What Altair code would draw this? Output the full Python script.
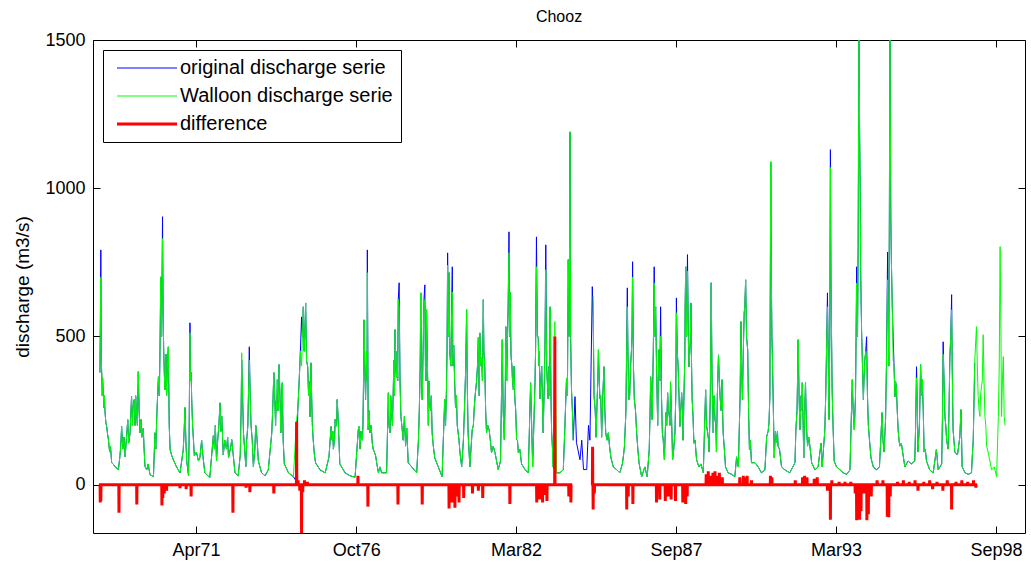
import altair as alt
import pandas as pd
import numpy as np

# ---------------- data ----------------
# decimal years of the sampled points
years = [
 1968.00, 1968.03, 1968.06, 1968.11, 1968.17, 1968.23, 1968.29, 1968.40, 1968.51, 1968.63, 1968.68, 1968.74, 1968.86, 1968.95,
 1969.03, 1969.08, 1969.17, 1969.25, 1969.31, 1969.37, 1969.48, 1969.54, 1969.71, 1969.83, 1969.88,
 1970.00, 1970.08, 1970.14, 1970.18, 1970.22, 1970.26, 1970.34, 1970.40, 1970.51, 1970.62, 1970.74, 1970.85, 1970.91, 1970.97,
 1971.03, 1971.08, 1971.14, 1971.23, 1971.37, 1971.48, 1971.59, 1971.76, 1971.88, 1971.99,
 1972.11, 1972.22, 1972.33, 1972.44, 1972.51, 1972.62, 1972.73, 1972.85, 1972.91, 1972.99,
 1973.11, 1973.17, 1973.25, 1973.36, 1973.42, 1973.53, 1973.65, 1973.76, 1973.88, 1973.95,
 1974.01, 1974.07, 1974.13, 1974.19, 1974.24, 1974.31, 1974.45, 1974.62, 1974.73, 1974.81, 1974.90, 1974.96,
 1975.04, 1975.11, 1975.19, 1975.22, 1975.30, 1975.38, 1975.53, 1975.71, 1975.84, 1975.91, 1975.99,
 1976.07, 1976.12, 1976.16, 1976.21, 1976.39, 1976.56, 1976.73, 1976.84, 1976.86, 1976.93, 1976.98,
 1977.04, 1977.09, 1977.15, 1977.18, 1977.24, 1977.32, 1977.39, 1977.47, 1977.53, 1977.58, 1977.64, 1977.81, 1977.87, 1977.93, 1977.98,
 1978.04, 1978.10, 1978.15, 1978.21, 1978.24, 1978.30, 1978.38, 1978.50, 1978.55, 1978.67, 1978.84, 1978.90, 1978.98,
 1979.03, 1979.09, 1979.12, 1979.18, 1979.24, 1979.29, 1979.37, 1979.46, 1979.58, 1979.71, 1979.80, 1979.86, 1979.90, 1979.95,
 1980.01, 1980.06, 1980.11, 1980.17, 1980.26, 1980.32, 1980.38, 1980.49, 1980.55, 1980.60, 1980.66, 1980.74, 1980.81, 1980.89, 1980.95,
 1981.00, 1981.06, 1981.12, 1981.17, 1981.23, 1981.32, 1981.40, 1981.52, 1981.63, 1981.71, 1981.77, 1981.84, 1981.89, 1981.95,
 1982.00, 1982.07, 1982.15, 1982.20, 1982.26, 1982.32, 1982.43, 1982.55, 1982.66, 1982.74, 1982.81, 1982.89, 1982.94,
 1983.00, 1983.06, 1983.12, 1983.17, 1983.23, 1983.26, 1983.34, 1983.41, 1983.46, 1983.51, 1983.57, 1983.63, 1983.74, 1983.86, 1983.91, 1983.97,
 1984.03, 1984.09, 1984.14, 1984.20, 1984.26, 1984.31, 1984.43, 1984.49, 1984.55, 1984.66, 1984.72, 1984.77, 1984.85, 1984.88, 1984.91, 1984.98,
 1985.06, 1985.11, 1985.17, 1985.25, 1985.31, 1985.40, 1985.49, 1985.57, 1985.68, 1985.79, 1985.88, 1985.95,
 1986.00, 1986.05, 1986.10, 1986.16, 1986.23, 1986.29, 1986.37, 1986.45, 1986.54, 1986.65, 1986.73, 1986.80, 1986.85, 1986.90, 1986.97,
 1987.02, 1987.09, 1987.13, 1987.19, 1987.25, 1987.32, 1987.37, 1987.43, 1987.49, 1987.53, 1987.60, 1987.68, 1987.73, 1987.79, 1987.85, 1987.91, 1987.96,
 1988.02, 1988.05, 1988.11, 1988.16, 1988.23, 1988.27, 1988.33, 1988.42, 1988.50, 1988.57, 1988.65, 1988.73, 1988.80, 1988.85, 1988.92, 1988.99,
 1989.05, 1989.10, 1989.17, 1989.23, 1989.29, 1989.33, 1989.41, 1989.50, 1989.62, 1989.73, 1989.79, 1989.85, 1989.94, 1989.99,
 1990.05, 1990.10, 1990.17, 1990.23, 1990.30, 1990.42, 1990.53, 1990.64, 1990.76, 1990.82, 1990.90, 1990.96,
 1991.02, 1991.08, 1991.16, 1991.21, 1991.33, 1991.44, 1991.61, 1991.79, 1991.82, 1991.90, 1991.96,
 1992.04, 1992.09, 1992.15, 1992.22, 1992.30, 1992.36, 1992.47, 1992.58, 1992.68, 1992.72, 1992.81, 1992.87, 1992.90, 1992.95,
 1993.00, 1993.06, 1993.13, 1993.21, 1993.33, 1993.44, 1993.56, 1993.67, 1993.75, 1993.82, 1993.90, 1993.93, 1993.98,
 1994.02, 1994.07, 1994.13, 1994.18, 1994.24, 1994.30, 1994.39, 1994.47, 1994.58, 1994.68, 1994.77, 1994.84, 1994.89, 1994.96,
 1995.00, 1995.04, 1995.09, 1995.15, 1995.21, 1995.26, 1995.32, 1995.38, 1995.43, 1995.55, 1995.66, 1995.77, 1995.89, 1995.95,
 1996.00, 1996.09, 1996.15, 1996.21, 1996.29, 1996.40, 1996.52, 1996.63, 1996.69, 1996.81, 1996.86, 1996.92, 1996.98,
 1997.03, 1997.09, 1997.15, 1997.20, 1997.26, 1997.35, 1997.43, 1997.47, 1997.51, 1997.61, 1997.72, 1997.83, 1997.89, 1997.94,
 1998.00, 1998.06, 1998.12, 1998.17, 1998.23, 1998.29, 1998.35, 1998.40, 1998.46, 1998.52, 1998.61, 1998.69, 1998.75, 1998.81, 1998.86, 1998.92, 1998.95, 1998.98,
]

original = [
 378, 792, 378, 320, 250, 196, 152, 74, 61, 51, 94, 196, 94, 219,
 175, 297, 287, 240, 381, 175, 190, 61, 34, 27, 175,
 364, 701, 904, 455, 320, 440, 465, 118, 84, 60, 40, 118, 260, 80,
 30, 546, 287, 98, 80, 150, 40, 24, 165, 80,
 276, 100, 120, 110, 152, 40, 30, 420, 175, 61,
 465, 200, 60, 175, 80, 40, 30, 50, 175, 378,
 200, 354, 405, 175, 344, 70, 40, 27, 10, 331, 566, 600,
 613, 398, 229, 411, 150, 74, 50, 40, 94, 196, 120,
 196, 287, 200, 70, 40, 30, 25, 185, 196, 180, 150,
 556, 287, 792, 185, 175, 140, 110, 74, 40, 60, 40, 40, 310, 175, 240,
 330, 523, 360, 624, 681, 230, 150, 190, 74, 60, 40, 150, 647,
 287, 624, 674, 590, 200, 265, 175, 90, 60, 27, 287, 320, 782, 715,
 400, 735, 470, 260, 175, 110, 60, 300, 590, 175, 60, 185, 260, 350, 496,
 512, 430, 624, 400, 175, 185, 108, 108, 51, 80, 489, 152, 533, 500,
 853, 432, 320, 290, 152, 108, 70, 51, 40, 344, 60, 344, 836,
 499, 290, 400, 175, 450, 809, 290, 600, 175, 60, 50, 40, 40, 50, 185, 360,
 759, 1190, 320, 150, 297, 142, 84, 150, 51, 51, 200, 150, 668, 560, 300, 160,
 455, 290, 160, 398, 175, 175, 90, 60, 51, 40, 70, 128,
 243, 664, 287, 398, 752, 287, 175, 74, 27, 60, 27, 118, 364, 220, 735,
 600, 200, 455, 600, 175, 84, 243, 310, 230, 347, 84, 175, 630, 398, 196, 310, 150,
 432, 735, 776, 398, 613, 287, 140, 84, 60, 70, 40, 320, 175, 110, 681, 175,
 220, 110, 438, 287, 354, 175, 60, 40, 35, 27, 94, 60, 550, 287,
 580, 691, 455, 118, 74, 74, 60, 40, 50, 162, 209, 1089,
 411, 90, 142, 130, 60, 50, 40, 74, 185, 489, 185,
 344, 90, 344, 130, 130, 74, 50, 60, 140, 60, 185, 465, 647, 220,
 1130, 320, 80, 60, 50, 40, 35, 50, 354, 185, 735, 500, 1560,
 995, 512, 287, 420, 499, 200, 90, 60, 50, 60, 243, 110, 220, 785,
 400, 1600, 748, 499, 297, 330, 185, 130, 140, 60, 80, 70, 80, 398,
 110, 405, 354, 110, 80, 50, 40, 120, 50, 70, 482, 230, 150,
 120, 432, 641, 185, 110, 100, 160, 253, 60, 40, 35, 40, 150, 411,
 None, None, None, None, None, None, None, None, None, None, None, None, None, None, None, None, None, None,
]

walloon = [
 378, 700, 378, 320, 250, 196, 152, 74, 61, 51, 94, 196, 94, 219,
 175, 297, 287, 240, 381, 175, 190, 61, 34, 27, 175,
 364, 701, 830, 455, 320, 440, 465, 118, 84, 60, 40, 118, 260, 80,
 30, 512, 287, 98, 80, 150, 40, 24, 165, 80,
 276, 100, 120, 110, 152, 40, 30, 445, 175, 61,
 420, 200, 60, 175, 80, 40, 30, 50, 175, 378,
 200, 354, 405, 175, 344, 70, 40, 27, 220, 331, 400, 600,
 613, 398, 229, 411, 150, 74, 50, 40, 94, 196, 120,
 196, 287, 200, 70, 40, 30, 25, 185, 196, 180, 150,
 556, 287, 715, 185, 175, 140, 110, 74, 40, 60, 40, 40, 310, 175, 240,
 330, 523, 360, 624, 600, 230, 150, 190, 74, 60, 40, 150, 647,
 287, 624, 600, 590, 200, 265, 175, 90, 60, 27, 287, 320, 740, 715,
 400, 650, 470, 260, 175, 110, 60, 300, 590, 175, 60, 185, 260, 350, 496,
 512, 430, 624, 400, 175, 185, 108, 108, 51, 80, 489, 152, 533, 500,
 782, 432, 320, 290, 152, 108, 70, 51, 40, 344, 60, 344, 735,
 499, 290, 400, 175, 450, 725, 290, 600, 175, 60, 550, 40, 40, 50, 185, 360,
 759, 1190, 320, 150, None, None, None, None, None, None, None, None, None, 635, 300, 160,
 455, 290, 160, 398, 175, 175, 90, 60, 51, 40, 70, 128,
 243, 600, 287, 398, 700, 287, 175, 74, 27, 60, 27, 118, 364, 220, 680,
 600, 200, 455, 500, 175, 84, 243, 310, 230, 347, 84, 175, 580, 398, 196, 310, 150,
 432, 735, 720, 398, 613, 287, 140, 84, 60, 70, 40, 320, 175, 110, 681, 175,
 220, 110, 438, 287, 354, 175, 60, 40, 35, 27, 94, 60, 550, 287,
 580, 691, 455, 118, 74, 74, 60, 40, 50, 162, 209, 1089,
 411, 90, 142, 130, 60, 50, 40, 74, 185, 489, 185,
 344, 90, 344, 130, 130, 74, 50, 60, 140, 60, 185, 465, 600, 220,
 1070, 320, 80, 60, 50, 40, 35, 50, 354, 185, 680, 500, 1560,
 995, 512, 287, 420, 430, 200, 90, 60, 50, 60, 243, 110, 220, 691,
 400, 1600, 748, 420, 297, 330, 185, 130, 140, 60, 80, 70, 80, 360,
 110, 405, 354, 110, 80, 50, 40, 120, 50, 70, 440, 230, 150,
 120, 432, 590, 185, 110, 100, 160, 253, 60, 40, 35, 40, 150, 411,
 533, 297, 230, 330, 506, 230, 130, 110, 80, 50, 60, 27, 230, 803, 230, 432, 230, 200,
]

# extra readings of the day-to-day wiggles in the wet seasons (both series agree there)
wiggle_t = [
 1968.045, 1968.08, 1968.09, 1968.135, 1968.15, 1968.20, 1968.26, 1968.33, 1968.36, 1968.45, 1968.71, 1968.78, 1968.82, 1968.90, 1968.98,
 1969.05, 1969.11, 1969.13, 1969.20, 1969.22, 1969.28, 1969.34, 1969.40, 1969.43, 1969.51, 1969.60, 1969.65, 1969.91, 1969.95,
 1970.03, 1970.05, 1970.11, 1970.16, 1970.20, 1970.24, 1970.28, 1970.30, 1970.37, 1970.45, 1970.88, 1970.94,
 1971.05, 1971.10, 1971.12, 1971.17, 1971.20, 1971.30, 1971.42, 1971.52, 1971.92, 1971.95,
 1972.03, 1972.07, 1972.14, 1972.17, 1972.27, 1972.37, 1972.40, 1972.48, 1972.80, 1972.83, 1972.88, 1972.95,
 1973.02, 1973.06, 1973.08, 1973.14, 1973.21, 1973.30, 1973.33, 1973.39, 1973.91, 1973.98,
 1974.03, 1974.05, 1974.10, 1974.16, 1974.21, 1974.27, 1974.77, 1974.86, 1974.93, 1974.99,
 1975.01, 1975.07, 1975.14, 1975.16, 1975.25, 1975.27, 1975.34, 1975.95, 1975.97,
 1976.03, 1976.05, 1976.10, 1976.14, 1976.18, 1976.90,
 1977.00, 1977.02, 1977.06, 1977.12, 1977.14, 1977.21, 1977.28, 1977.35, 1977.43, 1977.89, 1977.95,
 1978.01, 1978.06, 1978.08, 1978.12, 1978.17, 1978.19, 1978.27, 1978.33, 1978.42, 1978.46, 1978.93, 1978.96,
 1979.00, 1979.06, 1979.14, 1979.16, 1979.21, 1979.26, 1979.32, 1979.34, 1979.41, 1979.83, 1979.88, 1979.93, 1979.97,
 1980.03, 1980.08, 1980.14, 1980.20, 1980.23, 1980.29, 1980.44, 1980.52, 1980.57, 1980.78, 1980.84, 1980.92, 1980.98,
 1981.03, 1981.09, 1981.14, 1981.20, 1981.27, 1981.36, 1981.46, 1981.80, 1981.87, 1981.92, 1981.97,
 1982.02, 1982.04, 1982.10, 1982.12, 1982.17, 1982.23, 1982.29, 1982.37, 1982.85, 1982.91, 1982.97,
 1983.02, 1983.04, 1983.09, 1983.14, 1983.20, 1983.29, 1983.31, 1983.37, 1983.39, 1983.44, 1983.49,
 1984.00, 1984.06, 1984.11, 1984.17,
 1984.95, 1985.02, 1985.04, 1985.09, 1985.14, 1985.21, 1985.28, 1985.35, 1985.44, 1985.92,
 1986.02, 1986.07, 1986.13, 1986.19, 1986.21, 1986.26, 1986.33, 1986.41, 1986.83, 1986.88, 1986.94, 1986.99,
 1987.05, 1987.11, 1987.16, 1987.22, 1987.28, 1987.40, 1987.46, 1987.51, 1987.56, 1987.64, 1987.71, 1987.76, 1987.82, 1987.88, 1987.94, 1987.99,
 1988.03, 1988.08, 1988.14, 1988.19, 1988.21, 1988.25, 1988.30, 1988.37, 1988.76, 1988.83, 1988.89, 1988.95,
 1989.02, 1989.08, 1989.13, 1989.20, 1989.26, 1989.31, 1989.37, 1989.91, 1989.96,
 1990.02, 1990.07, 1990.13, 1990.20, 1990.26, 1990.87, 1990.93, 1990.98,
 1991.00, 1991.05, 1991.12, 1991.19, 1991.26, 1991.86, 1991.93,
 1992.00, 1992.02, 1992.07, 1992.12, 1992.18, 1992.26, 1992.84, 1992.93, 1992.98,
 1993.02, 1993.04, 1993.09, 1993.78, 1993.86, 1993.88, 1993.95,
 1994.00, 1994.04, 1994.10, 1994.15, 1994.21, 1994.27, 1994.34, 1994.80, 1994.87, 1994.92, 1994.98,
 1995.02, 1995.06, 1995.07, 1995.12, 1995.18, 1995.23, 1995.29, 1995.35, 1995.92, 1995.98,
 1996.05, 1996.12, 1996.18, 1996.25, 1996.84, 1996.89, 1996.95,
 1997.06, 1997.12, 1997.17, 1997.23, 1997.86, 1997.92,
 1998.03, 1998.09, 1998.14, 1998.20, 1998.26, 1998.32, 1998.78, 1998.84, 1998.89,
]
wiggle_v = [
 420, 300, 360, 260, 300, 210, 170, 110, 130, 70, 130, 120, 160, 150, 140,
 230, 200, 260, 200, 300, 200, 250, 220, 160, 120, 50, 70, 120, 250,
 300, 420, 500, 600, 380, 360, 300, 380, 200, 100, 180, 150,
 150, 350, 380, 200, 150, 110, 90, 100, 120, 200,
 150, 200, 180, 230, 150, 160, 90, 130, 100, 250, 300, 120,
 150, 200, 300, 300, 150, 120, 200, 130, 250, 300,
 280, 250, 250, 300, 280, 150, 250, 450, 500, 450,
 500, 420, 300, 350, 280, 200, 100, 150, 180,
 150, 220, 200, 250, 150, 120,
 200, 350, 400, 450, 350, 250, 200, 120, 100, 200, 300,
 200, 420, 300, 400, 450, 350, 350, 200, 230, 130, 250, 400,
 400, 450, 400, 350, 400, 350, 250, 300, 130, 200, 450, 500, 450,
 550, 400, 350, 300, 200, 150, 150, 400, 350, 200, 300, 400, 300,
 400, 350, 450, 250, 200, 150, 130, 250, 300, 350, 600,
 500, 650, 400, 350, 400, 250, 150, 120, 200, 450, 500,
 400, 450, 350, 300, 300, 400, 350, 400, 300, 280, 120,
 300, 500, 500, 250,
 250, 300, 350, 350, 300, 300, 250, 150, 130, 100,
 400, 450, 300, 450, 500, 400, 250, 120, 250, 300, 450, 500,
 400, 350, 350, 300, 150, 200, 250, 200, 250, 120, 300, 450, 300, 250, 250, 300,
 600, 500, 500, 450, 500, 400, 230, 150, 200, 150, 300, 350,
 300, 200, 300, 350, 250, 250, 120, 300, 400,
 450, 600, 500, 250, 150, 180, 300, 700,
 500, 250, 180, 180, 120, 250, 300,
 300, 250, 200, 250, 200, 160, 300, 400, 500,
 700, 500, 200, 250, 300, 500, 800,
 1200, 700, 400, 350, 450, 300, 150, 150, 180, 400, 600,
 900, 1100, 900, 600, 400, 350, 250, 150, 200, 250,
 200, 300, 250, 120, 250, 350, 200,
 250, 500, 400, 150, 100, 300,
 400, 250, 300, 350, 350, 200, 400, 500, 350,
]

# difference series: spikes away from a zero baseline (None = gap in the record)
diff_t = [
 1968.01, 1968.03, 1968.65, 1969.26, 1970.12, 1970.15, 1970.20, 1970.28, 1970.74, 1970.95, 1971.12,
 1972.55, 1973.00, 1973.13, 1973.95, 1974.73, 1974.78, 1974.84, 1974.90, 1974.94, 1975.00, 1975.10,
 1976.83, 1977.17, 1978.20, 1979.03, 1979.95, 1980.00, 1980.05, 1980.15, 1980.22, 1980.29, 1980.45,
 1980.75, 1980.95, 1981.10, 1982.03, 1982.95, 1983.00, 1983.05, 1983.15, 1983.23, 1983.30, 1983.57,
 1984.05, 1984.12, None,
 1984.86, 1984.88, 1984.92, 1986.03, 1986.08, 1986.24, 1987.05, 1987.16, 1987.35, 1987.45, 1987.55,
 1987.70, 1987.95, 1988.05, 1988.10, 1988.75, 1988.82, 1988.90, 1988.98, 1989.05, 1989.12, 1989.20,
 1989.30, 1989.90, 1990.02, 1990.10, 1990.15, 1990.30, 1990.95, 1991.00, 1991.80, 1992.05, 1992.12,
 1992.20, 1992.45, 1992.55, 1992.90, 1993.00, 1993.05, 1993.30, 1993.50, 1993.70, 1993.85, 1993.90,
 1993.95, 1994.00, 1994.05, 1994.15, 1994.25, 1994.30, 1994.40, 1994.60, 1994.80, 1994.95, 1995.00,
 1995.05, 1995.30, 1995.50, 1995.70, 1995.90, 1996.00, 1996.20, 1996.40, 1996.50, 1996.65, 1996.85,
 1997.00, 1997.15, 1997.30, 1997.50, 1997.70, 1997.90, 1997.98,
]
diff_v = [
 -60, -55, -95, -67, -70, -45, -30, -20, -12, -15, -40,
 -95, -10, -25, -30, 212, 15, -20, -165, -25, 15, 10,
 30, -74, -67, -67, -80, -30, -60, -78, -40, -60, -45,
 -30, -20, -45, -65, -60, -40, -50, -60, -35, -55, 500,
 -40, -60, None,
 128, -84, -30, -84, -40, -65, -60, -50, -55, -40, -50,
 -55, -60, -65, -40, 35, 45, 30, 40, 45, 30, 40,
 25, 25, 30, 25, 30, 15, 30, 25, 15, 25, 30,
 25, 20, 25, -20, -118, 15, 10, 10, 10, -30, -120,
 -60, -118, -90, -30, -120, -100, -40, 15, 15, -108, -110,
 -40, 10, 15, 10, 15, -20, 10, 15, -15, 10, -20,
 15, -84, 10, 15, 10, 15, -10,
]

tick_dates = ["1971-04-17", "1976-10-08", "1982-03-31", "1987-09-21", "1993-03-13", "1998-09-03"]
y_ticks = [0, 500, 1000, 1500]

names = ["original discharge serie", "Walloon discharge serie", "difference"]
colors = ["#0000ff", "#00ff00", "#ff0000"]
widths = [1, 1, 3]

# record limits
original_end = 1997.94
walloon_gap = (1984.20, 1984.88)

assert len(years) == len(original) == len(walloon)
assert len(wiggle_t) == len(wiggle_v)
assert len(diff_t) == len(diff_v)


def to_date(t):
    y = int(np.floor(t))
    a = pd.Timestamp(year=y, month=1, day=1)
    b = pd.Timestamp(year=y + 1, month=1, day=1)
    return (a + (b - a) * (t - y)).strftime("%Y-%m-%dT%H:%M:%S")


def series_frame(pairs, name):
    rows, seg = [], 0
    for t, v in sorted(pairs, key=lambda p: p[0]):
        if v is None:
            seg += 1
            continue
        rows.append({"date": to_date(t), "value": v, "series": name, "seg": seg})
    return pd.DataFrame(rows)


pairs_o = list(zip(years, original)) + [(t, v) for t, v in zip(wiggle_t, wiggle_v) if t < original_end]
pairs_w = list(zip(years, walloon)) + [(t, v) for t, v in zip(wiggle_t, wiggle_v)
                                       if not (walloon_gap[0] < t < walloon_gap[1])]
df_o = series_frame(pairs_o, names[0])
df_w = series_frame(pairs_w, names[1])

rows, seg = [], 0
for t, v in zip(diff_t, diff_v):
    if v is None:
        seg += 1
        continue
    for tt, vv in ((t - 0.006, 0), (t, v), (t + 0.006, 0)):
        rows.append({"date": to_date(tt), "value": vv, "series": names[2], "seg": seg})
df_d = pd.DataFrame(rows)

# ---------------- chart ----------------
FONT = "Liberation Sans"
W, H = 932, 493

xscale = alt.Scale(domain=[alt.DateTime(year=1967, month=10, date=6),
                           alt.DateTime(year=1999, month=8, date=31)])
yscale = alt.Scale(domain=[-163, 1500], nice=False, zero=False)
tick_vals = [alt.DateTime(year=int(d[:4]), month=int(d[5:7]), date=int(d[8:])) for d in tick_dates]

cscale = alt.Scale(domain=names, range=colors)

leg = alt.Legend(title=None, orient="top-left", offset=10, padding=8,
                 strokeColor="black", fillColor="white",
                 symbolType="M-6,0H6", symbolSize=100, symbolOffset=26,
                 symbolStrokeWidth=alt.ExprRef(expr="datum.value == 'difference' ? 3 : 1"),
                 labelOffset=23, labelFont=FONT, labelFontSize=20,
                 labelColor="black", rowPadding=8, labelLimit=0)

ax_x_lab = alt.Axis(values=tick_vals, format="%b%y", orient="bottom", ticks=False, tickSize=0,
                    labelPadding=8, domain=False, grid=False, title=None,
                    labelFont=FONT, labelFontSize=18, labelColor="black")
ax_y_lab = alt.Axis(values=y_ticks, format="d", orient="left", ticks=False, tickSize=0, labelPadding=8,
                    domain=False, grid=False, title="discharge (m3/s)",
                    titleFont=FONT, titleFontSize=19, titleFontWeight="normal", titleColor="black",
                    titleX=-71, titleY=H / 2, titleBaseline="middle", titleAngle=-90,
                    labelFont=FONT, labelFontSize=18, labelColor="black")


def tick_axis(vals, orient):
    return alt.Axis(values=vals, orient=orient, offset=-7, ticks=True, tickSize=7,
                    tickColor="black", labels=False, domain=False, grid=False, title=None)


def layer(df, xa, ya, sw):
    return alt.Chart(df).mark_line(clip=True, strokeWidth=sw).encode(
        x=alt.X("date:T", scale=xscale, axis=xa),
        y=alt.Y("value:Q", scale=yscale, axis=ya),
        color=alt.Color("series:O", scale=cscale, legend=leg),
        detail="seg:N",
    )


chart = alt.layer(
    layer(df_o, ax_x_lab, ax_y_lab, widths[0]),
    layer(df_w, tick_axis(tick_vals, "bottom"), tick_axis(y_ticks, "left"), widths[1]),
    layer(df_d, tick_axis(tick_vals, "top"), tick_axis(y_ticks, "right"), widths[2]),
).resolve_axis(x="independent", y="independent").properties(
    width=W, height=H,
    title=alt.Title("Chooz", font=FONT, fontSize=16, fontWeight="normal", color="black", offset=6),
    padding={"left": 93, "top": 40, "right": 6, "bottom": 29},
    autosize=alt.AutoSizeParams(type="none"),
    background="white",
).configure_view(stroke="black", strokeWidth=1)

chart.save("out.html", embed_options={"renderer": "svg", "actions": False})
